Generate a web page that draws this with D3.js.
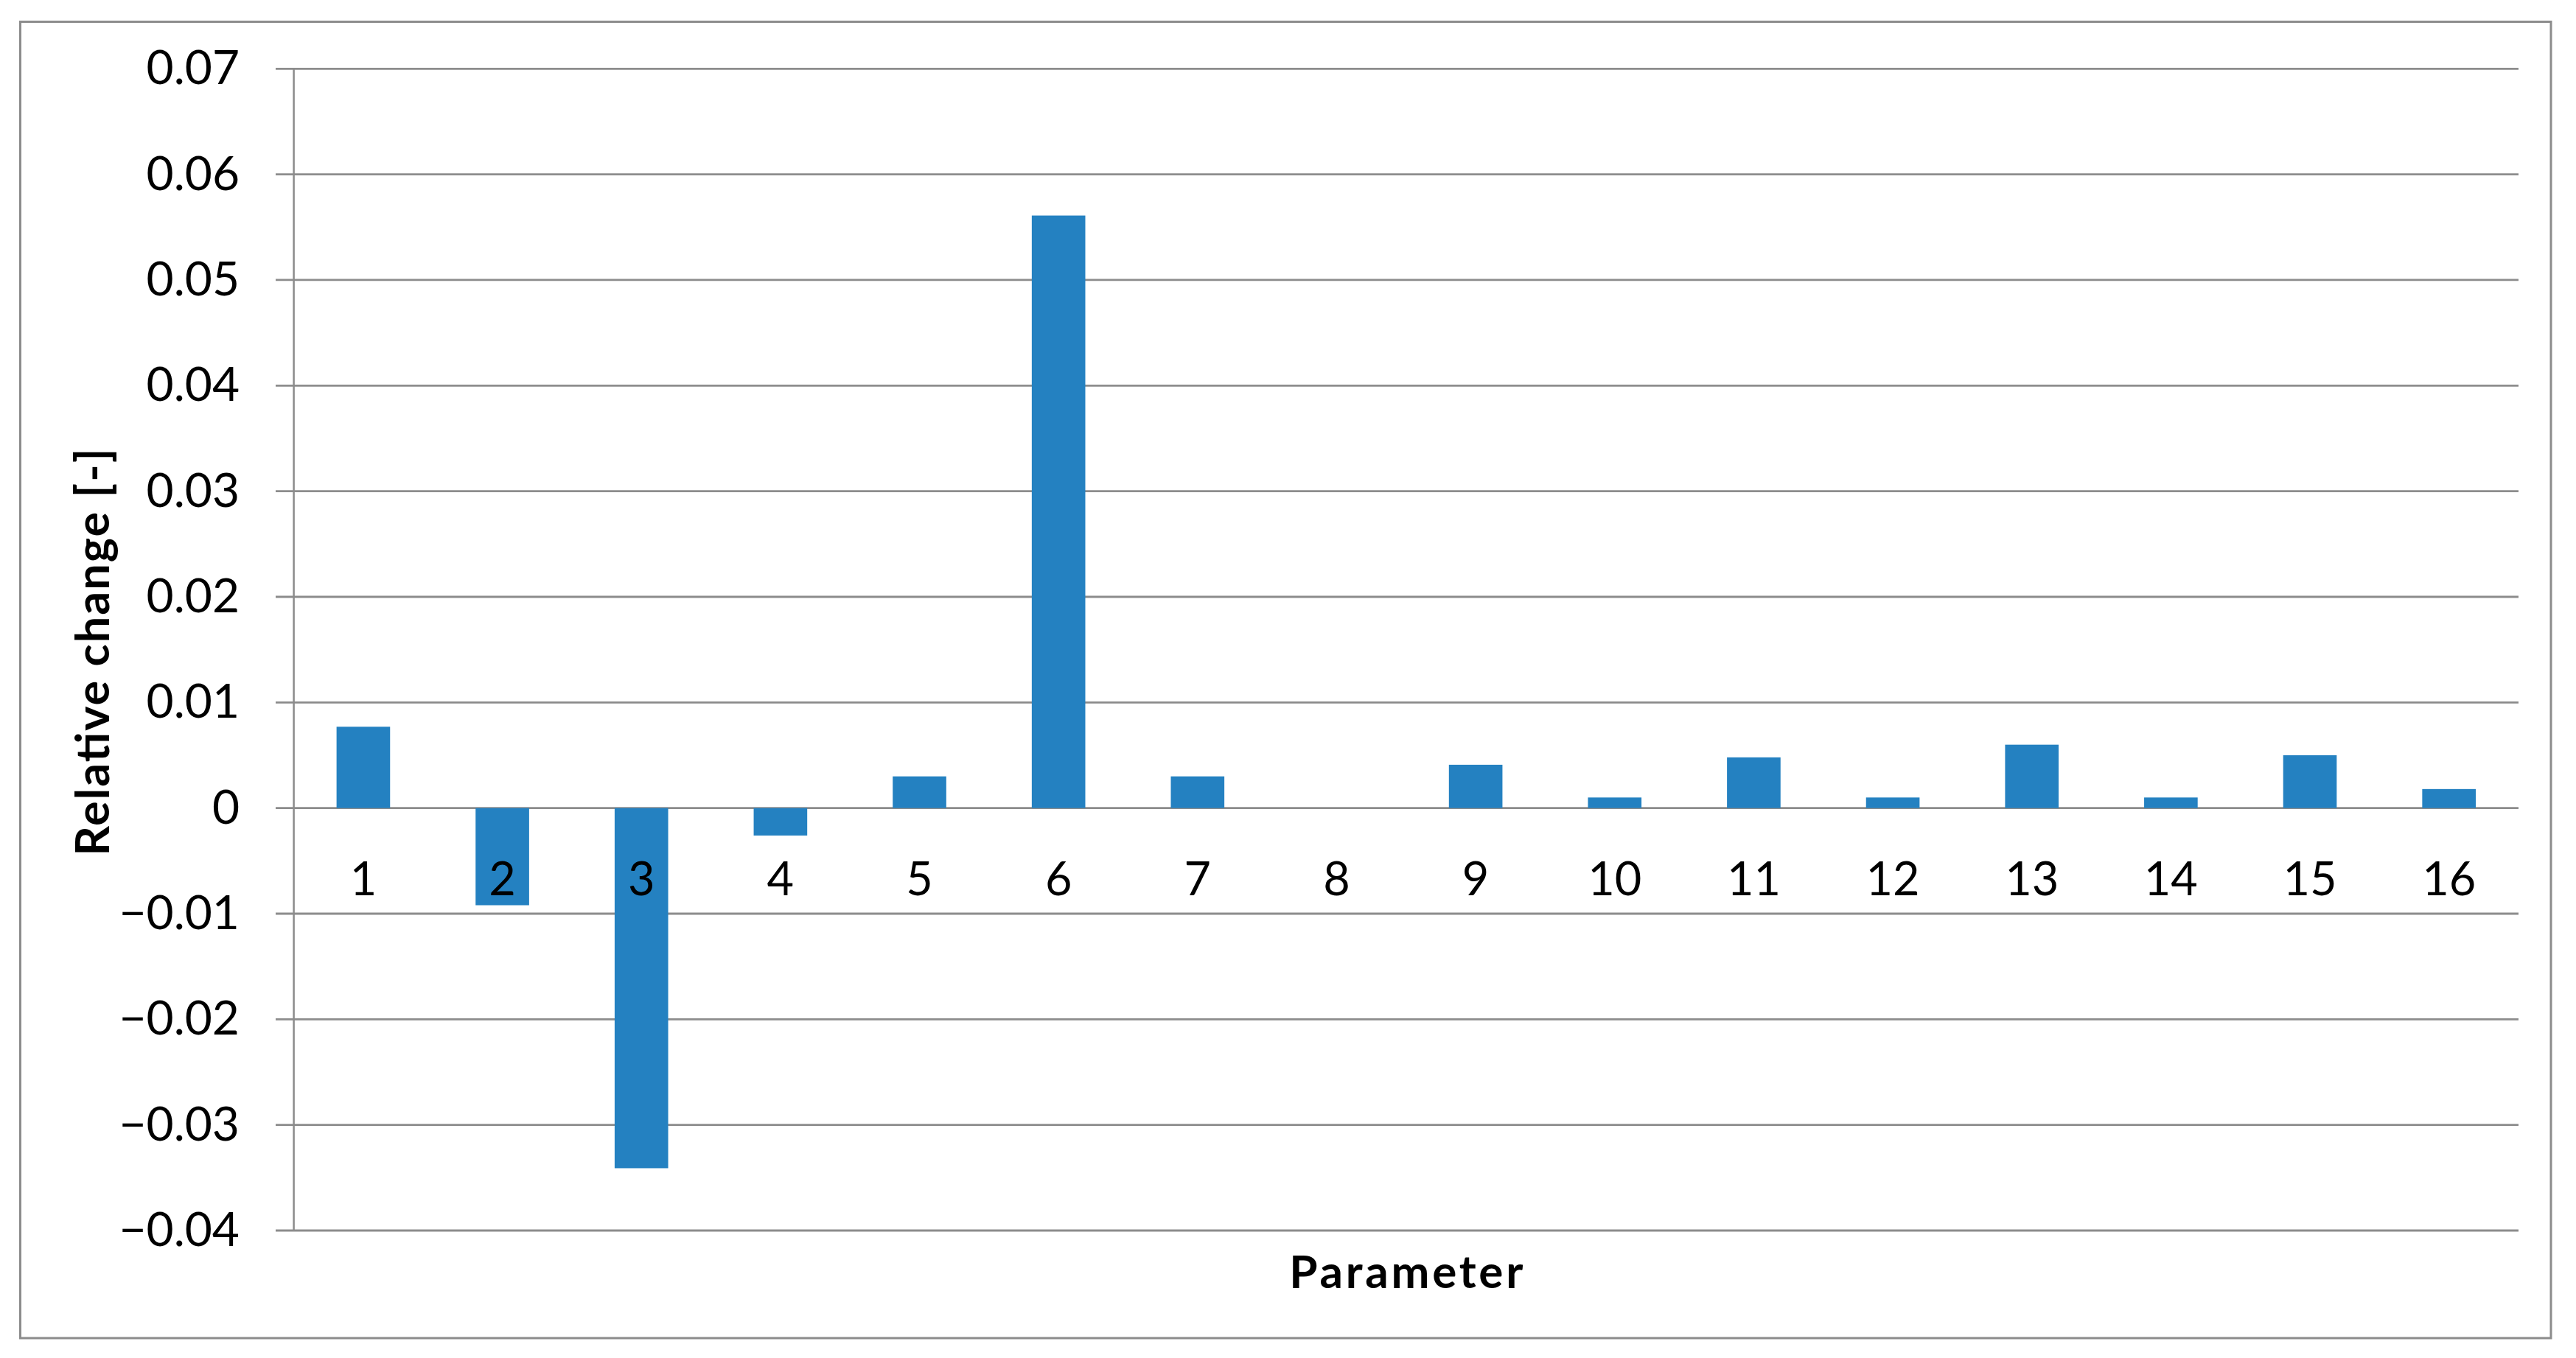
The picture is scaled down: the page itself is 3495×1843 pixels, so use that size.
<!DOCTYPE html>
<html>
<head>
<meta charset="utf-8">
<script src="https://cdn.jsdelivr.net/npm/d3@7"></script>
<style>
  body { margin: 0; background: #fff; }
  text { font-family: Lato, "Open Sans", sans-serif; fill: #000; }
</style>
</head>
<body>
<div id="chart"></div>
<script>
// data
const categories = ["1", "2", "3", "4", "5", "6", "7", "8", "9", "10", "11", "12", "13", "14", "15", "16"];
const values = [0.0077, -0.0092, -0.0341, -0.0026, 0.003, 0.0561, 0.003, 0, 0.0041, 0.001, 0.0048, 0.001, 0.006, 0.001, 0.005, 0.0018];
const yTicks = [-0.04, -0.03, -0.02, -0.01, 0, 0.01, 0.02, 0.03, 0.04, 0.05, 0.06, 0.07];
const yTickLabels = ["\u22120.04", "\u22120.03", "\u22120.02", "\u22120.01", "0", "0.01", "0.02", "0.03", "0.04", "0.05", "0.06", "0.07"];
const xTitle = "Parameter";
const yTitle = "Relative change [-]";

const W = 3495, H = 1843;
const plot = { left: 398.6, right: 3417, top: 93.3, bottom: 1670 };
const gridStart = 374;
const barColor = "#2481c1";
const lineColor = "#8c8c8c";

const svg = d3.select("#chart").append("svg")
  .attr("width", W)
  .attr("height", H)
  .style("display", "block");

svg.append("rect")
  .attr("width", W).attr("height", H)
  .attr("fill", "#fff");

// outer chart border
svg.append("rect")
  .attr("x", 27.5).attr("y", 29.5)
  .attr("width", 3461 - 27.5).attr("height", 1816 - 29.5)
  .attr("fill", "none")
  .attr("stroke", lineColor)
  .attr("stroke-width", 3);

const x = d3.scaleBand()
  .domain(categories)
  .range([plot.left, plot.right])
  .paddingInner(0.615)
  .paddingOuter(0.3075);

const y = d3.scaleLinear()
  .domain([-0.04, 0.07])
  .range([plot.bottom, plot.top]);

// gridlines
svg.append("g")
  .selectAll("line")
  .data(yTicks)
  .join("line")
  .attr("x1", gridStart)
  .attr("x2", plot.right)
  .attr("y1", d => y(d))
  .attr("y2", d => y(d))
  .attr("stroke", lineColor)
  .attr("stroke-width", 2.8);

// vertical axis line
svg.append("line")
  .attr("x1", plot.left).attr("x2", plot.left)
  .attr("y1", plot.top).attr("y2", plot.bottom)
  .attr("stroke", lineColor)
  .attr("stroke-width", 2.5);

// y tick labels
svg.append("g")
  .selectAll("text")
  .data(yTicks)
  .join("text")
  .attr("x", 325)
  .attr("y", d => y(d) + 21)
  .attr("text-anchor", "end")
  .attr("font-size", 64)
  .text((d, i) => yTickLabels[i]);

// bars
svg.append("g")
  .selectAll("rect")
  .data(values)
  .join("rect")
  .attr("x", (d, i) => x(categories[i]))
  .attr("width", x.bandwidth())
  .attr("y", d => y(Math.max(0, d)))
  .attr("height", d => Math.abs(y(d) - y(0)))
  .attr("fill", barColor);

// category labels sit under the zero line
svg.append("g")
  .selectAll("text")
  .data(categories)
  .join("text")
  .attr("x", d => x(d) + x.bandwidth() / 2)
  .attr("y", 1215)
  .attr("text-anchor", "middle")
  .attr("font-size", 63)
  .text(d => d);

svg.append("text")
  .attr("x", (plot.left + plot.right) / 2)
  .attr("y", 1748)
  .attr("text-anchor", "middle")
  .attr("font-size", 62)
  .attr("font-weight", "bold")
  .attr("textLength", 317)
  .attr("lengthAdjust", "spacing")
  .text(xTitle);

svg.append("text")
  .attr("transform", `translate(148,885) rotate(-90)`)
  .attr("text-anchor", "middle")
  .attr("font-size", 63)
  .attr("font-weight", "bold")
  .attr("textLength", 553)
  .attr("lengthAdjust", "spacing")
  .text(yTitle);
</script>
</body>
</html>
